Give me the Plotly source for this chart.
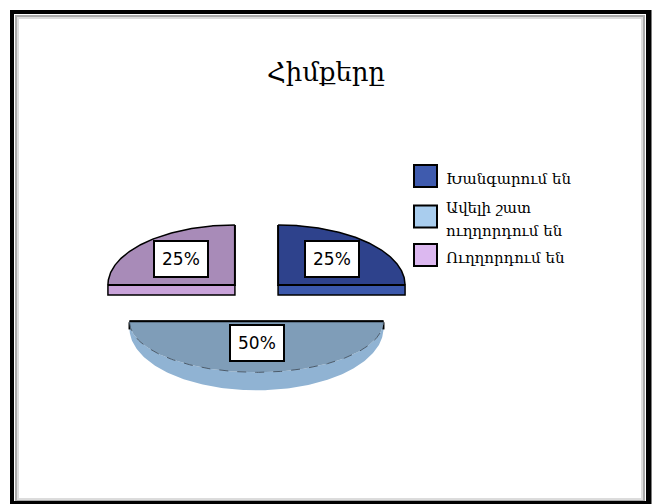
import numpy as np
import plotly.graph_objects as go

# ---- data ----
categories = ["Խանգարում են", "Ավելի շատ<br>ուղղորդում են", "Ուղղորդում են"]
shares = [25, 50, 25]
title_text = "Հիմքերը"

# ---- styling ----
face_colors = ["#2E428C", "#7F9DB8", "#A88BB8"]
side_colors = ["#3B58AC", "#90B3D3", "#C9A3DA"]
swatch_colors = ["#3F5BAE", "#A9CDEE", "#DCB8F0"]

W, H = 654, 504
CX, CY = 256.5, 300.0          # pie centre (pixels)
RX = 127.0                     # horizontal radius
RY_BACK, RY_FRONT = 60.0, 51.0  # perspective: back half a bit taller
EXPLODE, TILT = 30.5, 0.70
H_CUT = 10.0                   # thickness of visible cut faces
WALL_END, WALL_MID = 7.0, 11.0  # outer wall height (ends / extra at front)


def ry_of(t):
    return np.where(np.sin(t) >= 0, RY_BACK, RY_FRONT)


def arc_xy(cx, cy, t):
    return cx + RX * np.cos(t), cy - ry_of(t) * np.sin(t)


fig = go.Figure()


def poly(xs, ys, fill, line_color="black", width=1.5, dash="solid"):
    fig.add_trace(go.Scatter(
        x=list(xs), y=list(ys), mode="lines", fill="toself" if fill else None,
        fillcolor=fill, line=dict(color=line_color, width=width, dash=dash),
        hoverinfo="skip", showlegend=False))


def line(xs, ys, color="black", width=1.5, dash="solid"):
    fig.add_trace(go.Scatter(
        x=list(xs), y=list(ys), mode="lines",
        line=dict(color=color, width=width, dash=dash),
        hoverinfo="skip", showlegend=False))


# angles: clockwise from 12 o'clock, each slice spans [lo, hi] in degrees
cum = np.cumsum([0] + shares)
total = float(sum(shares))
slices = []
for i, v in enumerate(shares):
    hi = 90.0 - 360.0 * cum[i] / total
    lo = 90.0 - 360.0 * cum[i + 1] / total
    slices.append((i, lo, hi))

# back slices first, then front ones
order = sorted(slices, key=lambda s: -np.sin(np.radians((s[1] + s[2]) / 2)))

labels = []
for i, lo, hi in order:
    m = np.radians((lo + hi) / 2)
    cx = CX + EXPLODE * np.cos(m)
    cy = CY - EXPLODE * TILT * np.sin(m)
    t = np.radians(np.linspace(lo, hi, 181))
    ax, ay = arc_xy(cx, cy, t)

    # outer wall where the rim faces the viewer
    front = np.sin(t) < -1e-9
    if front.sum() > 1:
        tf = t[front]
        fx, fy = arc_xy(cx, cy, tf)
        by = fy + WALL_END + WALL_MID * (-np.sin(tf))
        poly(np.concatenate([fx, fx[::-1]]), np.concatenate([fy, by[::-1]]),
             side_colors[i], line_color="rgba(0,0,0,0)", width=0)
        line([fx[0], fx[0]], [fy[0], by[0]], width=2)
        line([fx[-1], fx[-1]], [fy[-1], by[-1]], width=2)

    # cut faces turned toward the viewer
    for a, normal in ((lo, lo - 90.0), (hi, hi + 90.0)):
        if np.sin(np.radians(normal)) < -0.5:
            ar = np.radians(a)
            ex, ey = arc_xy(cx, cy, np.array([ar]))
            ex, ey = float(ex[0]), float(ey[0])
            poly([cx, ex, ex, cx, cx], [cy, ey, ey + H_CUT, cy + H_CUT, cy],
                 side_colors[i])

    # top face
    poly(np.concatenate([[cx], ax, [cx]]), np.concatenate([[cy], ay, [cy]]),
         face_colors[i], line_color="rgba(0,0,0,0)", width=0)
    # radial edges
    line([ax[0], cx, ax[-1]], [ay[0], cy, ay[-1]], width=2)
    # rim: solid against background, dashed over the wall
    back = ~front
    if back.sum() > 1:
        line(ax[back], ay[back], width=1.5)
    if front.sum() > 1:
        line(ax[front], ay[front], color="#4a5a6a", width=1, dash="dash")

    fy_frac = 0.6 if np.sin(m) > 0 else 0.43
    lx = cx + 0.6 * RX * np.cos(m)
    ly = cy - fy_frac * float(ry_of(np.array([m]))[0]) * np.sin(m)
    labels.append((lx, ly, f"{shares[i]}%"))

annotations = []
for lx, ly, txt in labels:
    annotations.append(dict(
        x=lx, y=ly, xref="x", yref="y", text=txt, showarrow=False,
        font=dict(family="DejaVu Sans", size=17, color="black"),
        bgcolor="white", bordercolor="black", borderwidth=2, borderpad=7))

# title
annotations.append(dict(
    x=326, y=72, xref="x", yref="y", text=title_text, showarrow=False,
    font=dict(family="DejaVu Serif", size=26, color="black"),
    xanchor="center", yanchor="middle"))

# legend
shapes = []
entry_y = [176, 216.5, 255]
LINE_STEP = 23
for i, name in enumerate(categories):
    y0 = entry_y[i]
    shapes.append(dict(type="rect", xref="x", yref="y", x0=414, x1=437,
                       y0=y0 - 11, y1=y0 + 11, fillcolor=swatch_colors[i],
                       line=dict(color="black", width=2)))
    parts = name.split("<br>")
    n = len(parts)
    for k, part in enumerate(parts):
        ty = y0 + 3 + (k - (n - 1) / 2) * LINE_STEP
        annotations.append(dict(
            x=444, y=ty, xref="x", yref="y", text=part, showarrow=False,
            xanchor="left", yanchor="middle",
            font=dict(family="DejaVu Serif", size=15, color="black")))

# outer frame with soft inner shading
shapes += [
    dict(type="rect", xref="x", yref="y", x0=18, y0=18, x1=642, y1=499,
         line=dict(color="#dcdcdc", width=2)),
    dict(type="rect", xref="x", yref="y", x0=16, y0=16, x1=644, y1=501,
         line=dict(color="#a8a8a8", width=2)),
    dict(type="rect", xref="x", yref="y", x0=12, y0=12, x1=648, y1=503,
         line=dict(color="black", width=4)),
    dict(type="line", xref="x", yref="y", x0=650, y0=10, x1=650, y1=504,
         line=dict(color="black", width=3)),
]

fig.update_layout(
    width=W, height=H, margin=dict(l=0, r=0, t=0, b=0),
    paper_bgcolor="white", plot_bgcolor="white",
    xaxis=dict(range=[0, W], visible=False, fixedrange=True),
    yaxis=dict(range=[H, 0], visible=False, fixedrange=True),
    annotations=annotations, shapes=shapes, showlegend=False)

fig.write_html("out.html")
